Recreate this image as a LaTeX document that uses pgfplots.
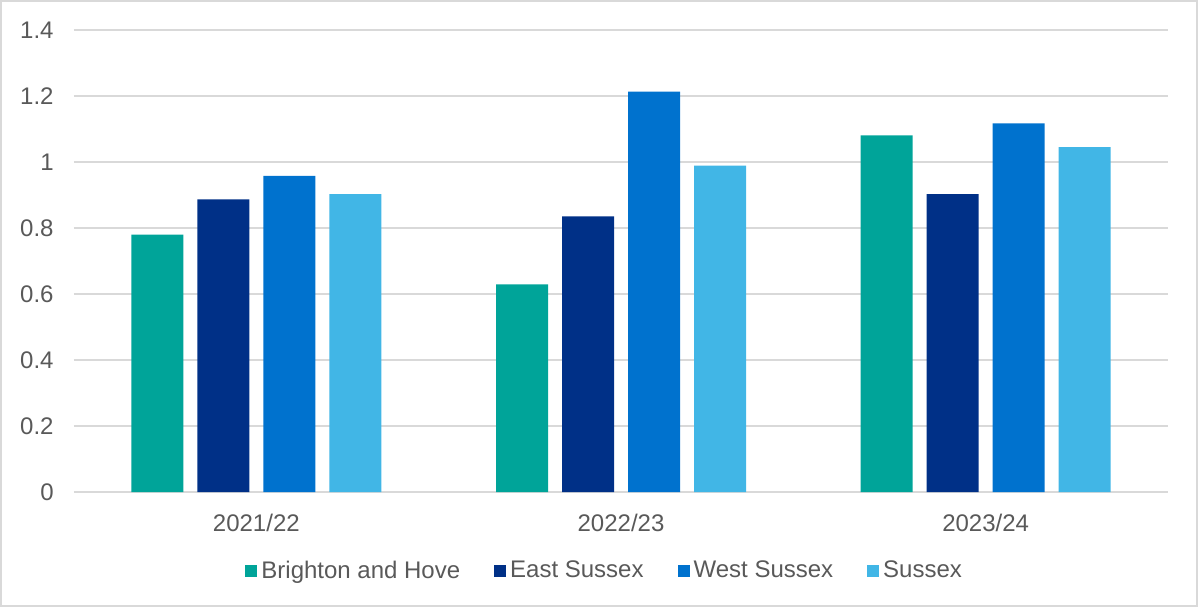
\documentclass[border=0pt]{standalone}
\usepackage{pgfplots}
\pgfplotsset{compat=1.18}
\usepackage{fontspec}
\setmainfont{Liberation Sans}

\definecolor{bhteal}{HTML}{00A499}
\definecolor{esnavy}{HTML}{003087}
\definecolor{wsblue}{HTML}{0072CE}
\definecolor{sxlight}{HTML}{41B6E6}
\definecolor{gridgray}{HTML}{D9D9D9}
\definecolor{textgray}{HTML}{595959}

% Rates by year: x = 0 (2021/22), 1 (2022/23), 2 (2023/24)
\pgfplotstableread{
x  bh     es     ws     sx
0  0.780  0.887  0.958  0.903
1  0.629  0.835  1.213  0.989
2  1.081  0.903  1.117  1.045
}\ratedata
\usepackage{pgfplotstable}

\begin{document}
\begin{tikzpicture}
\useasboundingbox (-37pt,-57.5pt) rectangle (562pt,246pt);
\draw[gridgray, line width=0.75pt] (-36.4pt,-57pt) rectangle (561.4pt,245.4pt);
\begin{axis}[
  at={(0,0)}, anchor=south west,
  scale only axis, width=547pt, height=231pt,
  ybar, bar width=26pt,
  xmin=-0.5, xmax=2.5, ymin=0, ymax=1.4,
  xtick={0,1,2}, xticklabels={2021/22,2022/23,2023/24},
  ytick={0,0.2,0.4,0.6,0.8,1,1.2,1.4},
  yticklabels={0,0.2,0.4,0.6,0.8,1,1.2,1.4},
  axis lines*=left, axis line style={draw=none,-},
  major tick length=0pt,
  ymajorgrids, grid style={gridgray, line width=0.75pt},
  tick label style={font=\fontsize{12}{14}\selectfont, text=textgray},
  y tick label style={anchor=east, inner sep=0pt, xshift=-10pt},
  x tick label style={anchor=north, inner sep=0pt, yshift=-11pt},
  legend columns=4,
  legend style={draw=none, fill=none, at={(0.486,-0.171)}, anchor=center,
    font=\fontsize{12}{14}\selectfont, text=textgray,
    /tikz/every even column/.append style={column sep=15pt},
    nodes={inner sep=2pt}},
  legend image code/.code={\fill[#1] (0pt,-3pt) rectangle (6pt,3pt);},
]
\addplot[fill=bhteal, draw=none, bar shift=-49.5pt] table[x=x, y=bh] {\ratedata};
\addlegendentry{Brighton and Hove}
\addplot[fill=esnavy, draw=none, bar shift=-16.5pt] table[x=x, y=es] {\ratedata};
\addlegendentry{East Sussex}
\addplot[fill=wsblue, draw=none, bar shift=16.5pt] table[x=x, y=ws] {\ratedata};
\addlegendentry{West Sussex}
\addplot[fill=sxlight, draw=none, bar shift=49.5pt] table[x=x, y=sx] {\ratedata};
\addlegendentry{Sussex}
\end{axis}
\end{tikzpicture}
\end{document}
